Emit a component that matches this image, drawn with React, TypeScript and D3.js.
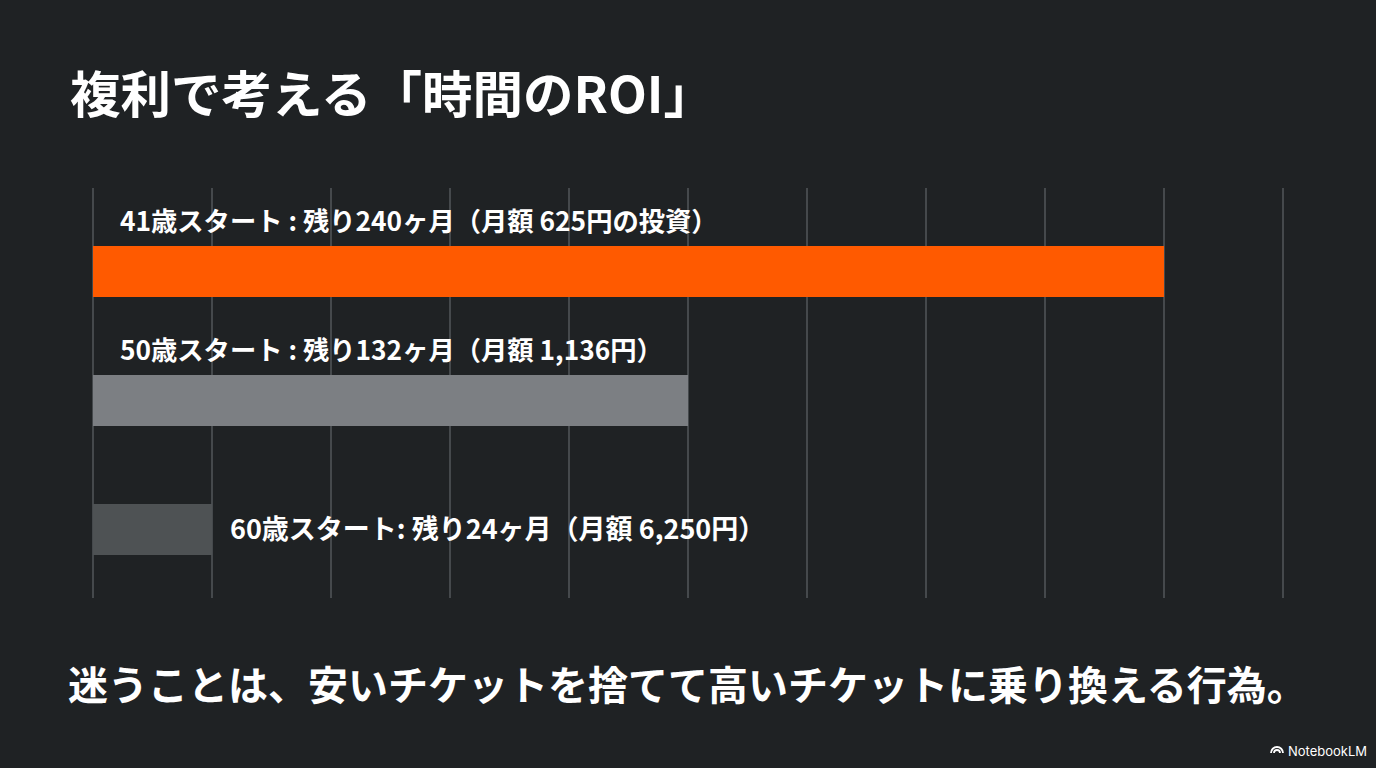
import React from "react";
import * as d3 from "d3";

const W = 1376;
const H = 768;

const categories = ["41歳", "50歳", "60歳"];
const barLengths = [9, 5, 1]; // bar length in gridline units
const barLabels = [
  "41歳スタート : 残り240ヶ月（月額 625円の投資）",
  "50歳スタート : 残り132ヶ月（月額 1,136円）",
  "60歳スタート: 残り24ヶ月（月額 6,250円）",
];
const barColors = ["#ff5a00", "#7c7f83", "#4e5254"];
const gridTicks = [0, 1, 2, 3, 4, 5, 6, 7, 8, 9, 10];

const title = "複利で考える「時間のROI」";
const footer = "迷うことは、安いチケットを捨てて高いチケットに乗り換える行為。";

const FONT = "'Noto Sans CJK JP', 'Noto Sans', sans-serif";

export default function App() {
  const x = d3.scaleLinear().domain([0, 10]).range([93, 1283]);
  const y = d3.scalePoint<string>().domain(categories).range([271.5, 529.5]);
  const bw = 51;

  return (
    <svg
      width={W}
      height={H}
      style={{ position: "absolute", left: 0, top: 0, display: "block", background: "#1f2224" }}
    >
      <rect x={0} y={0} width={W} height={H} fill="#1f2224" />
      <text x={70} y={113} fill="#ffffff" fontFamily={FONT} fontWeight={700} fontSize={50.5}>
        {title}
      </text>
      {gridTicks.map((t) => (
        <line
          key={t}
          x1={x(t)}
          x2={x(t)}
          y1={188}
          y2={598}
          stroke="#45494c"
          strokeWidth={2}
        />
      ))}
      {categories.map((c, i) => {
        const cy = y(c) as number;
        const inside = i < 2;
        return (
          <g key={c}>
            <rect
              x={x(0)}
              y={cy - bw / 2}
              width={x(barLengths[i]) - x(0)}
              height={bw}
              fill={barColors[i]}
            />
            <text
              x={inside ? 120 : x(barLengths[i]) + 18}
              y={inside ? cy - bw / 2 - 24 : cy}
              dy="0.35em"
              fill="#ffffff"
              fontFamily={FONT}
              fontWeight={700}
              fontSize={i === 2 ? 27 : 26.3}
            >
              {barLabels[i]}
            </text>
          </g>
        );
      })}
      <text x={68} y={700} fill="#ffffff" fontFamily={FONT} fontWeight={700} fontSize={40}>
        {footer}
      </text>
      <g transform="translate(1270,752)">
        <path
          d="M1,1 A6,6 0 0 1 13,1 M4,1 A3,3 0 0 1 10,1"
          fill="none"
          stroke="#ffffff"
          strokeWidth={1.8}
        />
        <text x={18} y={4} fill="#ffffff" fontFamily="Inter, 'Noto Sans', sans-serif" fontSize={13}>
          NotebookLM
        </text>
      </g>
    </svg>
  );
}
